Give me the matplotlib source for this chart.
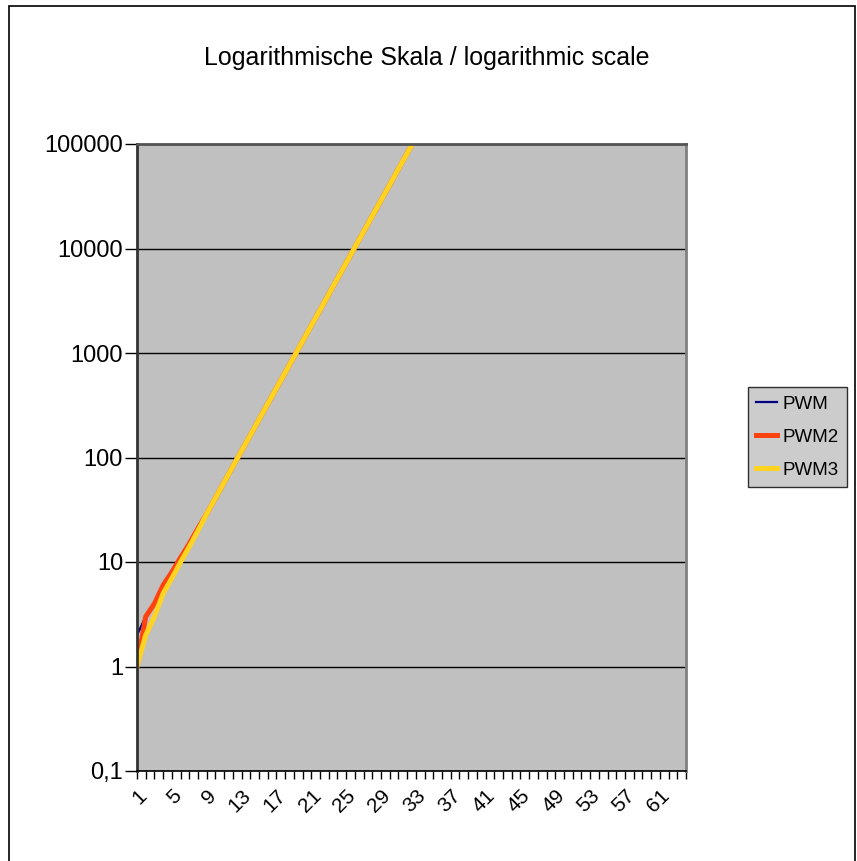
import matplotlib.pyplot as plt
from matplotlib.patches import Rectangle

plt.rcParams['font.family'] = ['Liberation Sans', 'DejaVu Sans']

# ---- data (values above 100000 are clipped) ----
steps = list(range(1, 65))
pwm = [2, 3, 4, 6, 8, 11, 15, 21, 29, 41, 58, 82, 116, 163, 231, 326, 460,
       650, 917, 1295, 1830, 2580, 3645, 5150, 7270, 10270, 14500, 20480,
       28900, 40800, 57700, 81400, 115000]
pwm2 = [1, 3, 4, 6, 8, 11, 15, 21, 29, 41, 58, 82, 116, 163, 231, 326, 460,
        650, 917, 1295, 1830, 2580, 3645, 5150, 7270, 10270, 14500, 20480,
        28900, 40800, 57700, 81400, 115000]
pwm3 = [1, 2, 3, 5, 7, 10, 14, 20, 29, 41, 58, 82, 116, 163, 231, 326, 460,
        650, 917, 1295, 1830, 2580, 3645, 5150, 7270, 10270, 14500, 20480,
        28900, 40800, 57700, 81400, 115000]
series = [('PWM', pwm, '#000080', 1.6),
          ('PWM2', pwm2, '#ff420e', 3.6),
          ('PWM3', pwm3, '#ffd320', 3.6)]
y_ticks = [0.1, 1, 10, 100, 1000, 10000, 100000]
y_labels = ['0,1', '1', '10', '100', '1000', '10000', '100000']

fig = plt.figure(figsize=(8.57, 8.61), dpi=100)
fig.set_facecolor('white')
ax = fig.add_axes([137 / 857, 90 / 861, 549 / 857, 627 / 861])
ax.set_facecolor('#c0c0c0')

for name, vals, col, lw in series:
    ax.plot(steps[:len(vals)], vals, color=col, linewidth=lw, label=name,
            solid_joinstyle='miter')

ax.set_yscale('log')
ax.set_ylim(0.1, 100000)
ax.set_xlim(1, 64)
ax.set_yticks(y_ticks)
ax.set_yticklabels(y_labels)
ax.minorticks_off()
ax.yaxis.grid(True, color='black', linewidth=1.0)
ax.set_axisbelow(True)

ax.set_xticks(steps)
ax.set_xticklabels([str(s) if (s - 1) % 4 == 0 else '' for s in steps],
                   rotation=45, ha='right', va='top', rotation_mode='anchor')
ax.tick_params(axis='x', direction='out', length=6, width=1, labelsize=15,
               pad=5)
ax.tick_params(axis='y', direction='out', length=9, width=1, labelsize=17,
               pad=1)

ax.spines['left'].set_color('#333333')
ax.spines['left'].set_linewidth(2)
ax.spines['top'].set_color('#555555')
ax.spines['top'].set_linewidth(2)
ax.spines['right'].set_color('#808080')
ax.spines['right'].set_linewidth(2)
ax.spines['bottom'].set_color('black')
ax.spines['bottom'].set_linewidth(1.2)

fig.text(427 / 857, 1 - 58 / 861, 'Logarithmische Skala / logarithmic scale',
         ha='center', va='center', fontsize=18)

leg = ax.legend(loc='center left', bbox_to_anchor=(748 / 857, 1 - 437 / 861),
                bbox_transform=fig.transFigure, fontsize=13.5, frameon=True,
                fancybox=False, handlelength=1.1, handletextpad=0.3,
                borderpad=0.45, labelspacing=0.85, borderaxespad=0)
leg.get_frame().set_facecolor('#c0c0c0')
leg.get_frame().set_edgecolor('black')
leg.get_frame().set_linewidth(1)

# outer chart border (bottom edge lies outside the picture)
fig.patches.append(Rectangle((9 / 857, -0.05), 846 / 857, 1.05 - 6 / 861,
                             transform=fig.transFigure, fill=False,
                             edgecolor='black', linewidth=1.2))

plt.savefig('out.png', dpi=100, facecolor='white')
